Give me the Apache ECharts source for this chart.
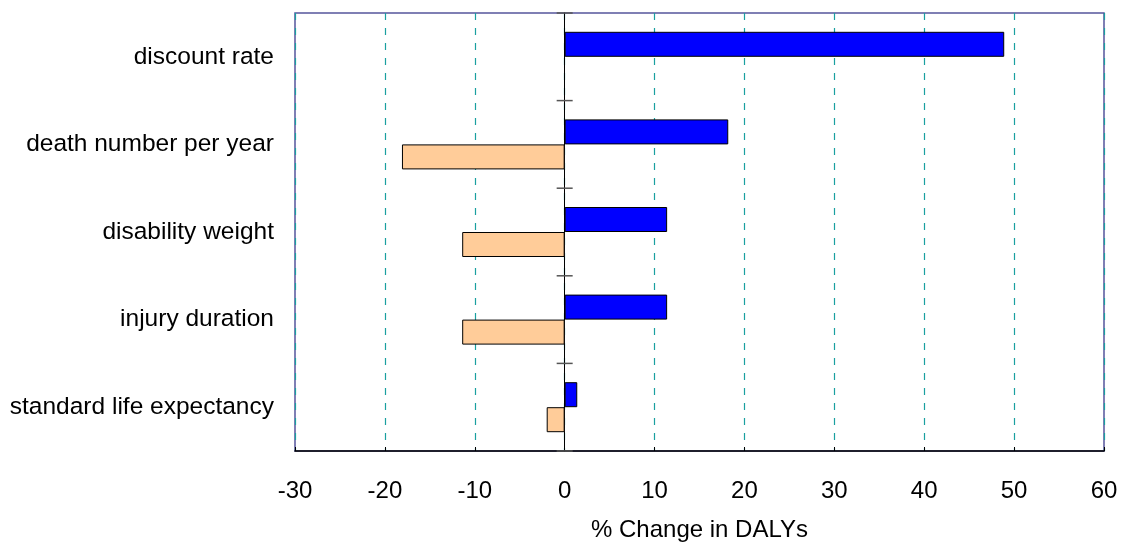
<!DOCTYPE html>
<html>
<head>
<meta charset="utf-8">
<script src="https://cdn.jsdelivr.net/npm/echarts@6/dist/echarts.min.js"></script>
<style>
  html, body { margin: 0; padding: 0; background: #fff; }
  #chart { width: 1121px; height: 542px; }
</style>
</head>
<body>
<div id="chart"></div>
<script>
// Sensitivity of DALY estimates to each parameter (% change)
const categories = ['discount rate', 'death number per year', 'disability weight', 'injury duration', 'standard life expectancy'];
const increaseValues = [48.9, 18.2, 11.4, 11.4, 1.4];
const decreaseValues = [null, -18.1, -11.4, -11.4, -2.0];
const xTicks = { min: -30, max: 60, interval: 10 };
const axisTitle = '% Change in DALYs';

const font = 'Liberation Sans, Arial, sans-serif';
const chart = echarts.init(document.getElementById('chart'), null, { renderer: 'canvas' });

// category band boundaries (0 .. n) for the cross ticks on the zero line
const boundaries = categories.map((_, i) => [0, i]).concat([[0, categories.length]]);

chart.setOption({
  animation: false,
  grid: {
    left: 295, right: 17, top: 13, bottom: 91,
    outerBoundsMode: 'none',
    containLabel: false,
    show: true, borderColor: '#55559c', borderWidth: 1.5
  },
  xAxis: {
    type: 'value',
    min: xTicks.min, max: xTicks.max, interval: xTicks.interval,
    name: axisTitle,
    nameLocation: 'middle',
    nameGap: 67,
    nameTextStyle: { fontFamily: font, fontSize: 24, color: '#000' },
    axisLine: { show: true, onZero: false, lineStyle: { color: '#000', width: 1.5 } },
    axisTick: { show: true, inside: true, length: 4, lineStyle: { color: '#000' } },
    axisLabel: { fontFamily: font, fontSize: 24, color: '#000', margin: 28 },
    splitLine: {
      show: true,
      lineStyle: { color: '#1aa0a0', type: [7, 8], width: 1.2 }
    }
  },
  yAxis: [
    {
      type: 'category',
      data: categories,
      inverse: true,
      axisLine: { onZero: true, lineStyle: { color: '#000', width: 1 } },
      axisTick: { show: false },
      axisLabel: { show: false },
      splitLine: { show: false },
      splitArea: { show: false }
    },
    {
      type: 'category',
      data: categories,
      inverse: true,
      position: 'left',
      axisLine: { show: false, onZero: false },
      axisTick: { show: false },
      splitLine: { show: false },
      splitArea: { show: false },
      axisLabel: { fontFamily: font, fontSize: 24.5, color: '#000', margin: 21 }
    }
  ],
  series: [
    {
      type: 'bar',
      data: increaseValues,
      barWidth: 25,
      barGap: '0%',
      itemStyle: { color: '#0000ff', borderColor: '#000', borderWidth: 1 }
    },
    {
      type: 'bar',
      data: decreaseValues,
      barWidth: 25,
      barGap: '0%',
      itemStyle: { color: '#ffcc99', borderColor: '#000', borderWidth: 1 }
    },
    {
      // short cross ticks on the zero line between categories
      type: 'custom',
      coordinateSystem: 'cartesian2d',
      clip: false,
      silent: true,
      data: boundaries,
      renderItem: function (params, api) {
        const idx = api.value(1);
        const last = categories.length - 1;
        const c = api.coord([0, Math.min(idx, last)]);
        const band = Math.abs(api.size([0, 1])[1]);
        const y = idx <= last ? c[1] - band / 2 : c[1] + band / 2;
        return {
          type: 'line',
          shape: { x1: c[0] - 8, y1: y, x2: c[0] + 8, y2: y },
          style: { stroke: '#555', lineWidth: 1.5 }
        };
      }
    }
  ]
});
</script>
</body>
</html>
